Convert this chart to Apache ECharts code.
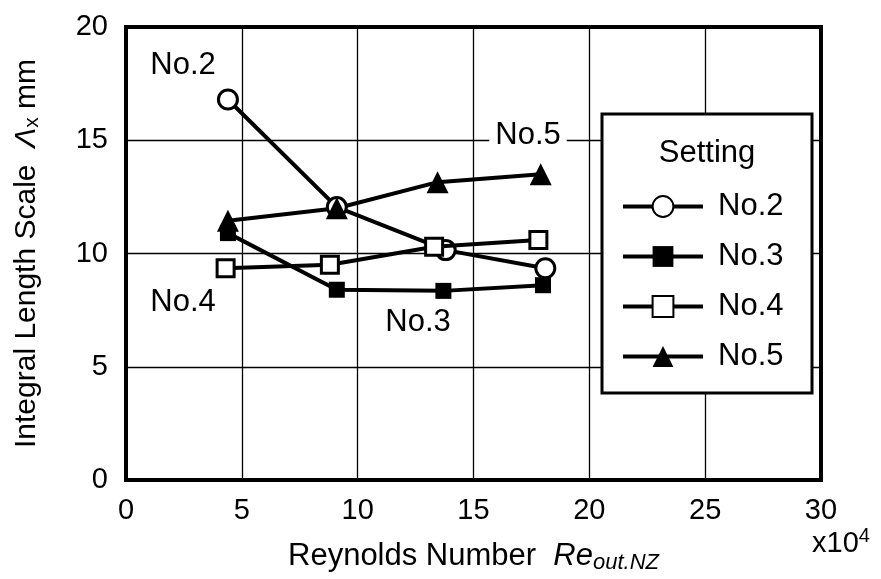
<!DOCTYPE html>
<html>
<head>
<meta charset="utf-8">
<script src="https://cdn.jsdelivr.net/npm/echarts@6/dist/echarts.min.js"></script>
<style>html,body{margin:0;padding:0;background:#fff}#c{width:881px;height:579px}</style>
</head>
<body>
<div id="c"></div>
<script>
// Data (x in units of 10^4, y in mm)
const seriesNames = ['No.2', 'No.3', 'No.4', 'No.5'];
const no2 = [[4.4, 16.8], [9.1, 12.05], [13.8, 10.15], [18.1, 9.35]];
const no3 = [[4.4, 10.9], [9.1, 8.4], [13.7, 8.35], [18.0, 8.6]];
const no4 = [[4.3, 9.35], [8.8, 9.5], [13.3, 10.3], [17.8, 10.6]];
const no5 = [[4.4, 11.45], [9.1, 12.0], [13.45, 13.15], [17.9, 13.5]];
const xTicks = [0, 5, 10, 15, 20, 25, 30];
const yTicks = [0, 5, 10, 15, 20];

const FONT = '"Liberation Sans", Arial, sans-serif';
const FS = 29;   // tick labels
const FT = 31;   // annotations / legend / x title
const FY = 30;   // y title

const chart = echarts.init(document.getElementById('c'), null, {renderer: 'canvas'});

function mk(name, data, symbol, size, fill, z) {
  return {
    name: name, type: 'line', data: data, symbol: symbol, symbolSize: size, z: z,
    showSymbol: true,
    lineStyle: {color: '#000', width: 4},
    itemStyle: {color: fill, borderColor: '#000', borderWidth: fill === '#fff' ? 3 : 0},
    emphasis: {disabled: true},
    animation: false
  };
}

const option = {
  backgroundColor: '#fff',
  animation: false,
  grid: {left: 126, right: 60, top: 27, bottom: 99, show: true, borderColor: '#000', borderWidth: 4, backgroundColor: 'transparent', z: 3},
  xAxis: {
    type: 'value', min: xTicks[0], max: xTicks[xTicks.length - 1], interval: 5,
    axisLine: {show: false}, axisTick: {show: false},
    splitLine: {show: true, lineStyle: {color: '#000', width: 1.3}},
    axisLabel: {color: '#000', fontSize: FS, fontFamily: FONT, margin: 16},
    name: 'Reynolds Number  {i|Re}{s|out.NZ}',
    nameLocation: 'middle', nameGap: 58,
    nameTextStyle: {
      color: '#000', fontSize: FT, fontFamily: FONT,
      rich: {
        i: {fontSize: FT, fontStyle: 'italic', fontFamily: FONT, color: '#000'},
        s: {fontSize: 22, fontStyle: 'italic', fontFamily: FONT, color: '#000', padding: [14, 0, 0, 0]}
      }
    }
  },
  yAxis: {
    type: 'value', min: yTicks[0], max: yTicks[yTicks.length - 1], interval: 5,
    axisLine: {show: false}, axisTick: {show: false},
    splitLine: {show: true, lineStyle: {color: '#000', width: 1.3}},
    axisLabel: {color: '#000', fontSize: FS, fontFamily: FONT, margin: 18},
    name: 'Integral Length Scale  {i|Λ}{s|x}{n| mm}',
    nameLocation: 'middle', nameGap: 83, nameRotate: 90,
    nameTextStyle: {
      color: '#000', fontSize: FY, fontFamily: FONT,
      rich: {
        i: {fontSize: FY, fontStyle: 'italic', fontFamily: FONT, color: '#000'},
        s: {fontSize: 21, fontFamily: FONT, color: '#000', padding: [12, 0, 0, 0]},
        n: {fontSize: FY, fontFamily: FONT, color: '#000'}
      }
    }
  },
  legend: {
    orient: 'vertical', left: 621, top: 191,
    itemWidth: 80, itemHeight: 26, itemGap: 19,
    padding: 0,
    data: seriesNames,
    lineStyle: {width: 4, color: '#000'},
    textStyle: {color: '#000', fontSize: FT, fontFamily: FONT, padding: [0, 0, 0, 10]},
    selectedMode: false,
    z: 10
  },
  graphic: [
    {type: 'rect', shape: {x: 602, y: 114, width: 210, height: 279}, style: {fill: '#fff', stroke: '#000', lineWidth: 3}, z: 5},
    {type: 'text', x: 707, y: 153, style: {text: 'Setting', font: FT + 'px ' + FONT, fill: '#000', textAlign: 'center', textVerticalAlign: 'middle'}, z: 6},
    {type: 'text', x: 183, y: 65, style: {text: 'No.2', font: FT + 'px ' + FONT, fill: '#000', textAlign: 'center', textVerticalAlign: 'middle'}, z: 6},
    {type: 'text', x: 183, y: 302, style: {text: 'No.4', font: FT + 'px ' + FONT, fill: '#000', textAlign: 'center', textVerticalAlign: 'middle'}, z: 6},
    {type: 'text', x: 418, y: 322, style: {text: 'No.3', font: FT + 'px ' + FONT, fill: '#000', textAlign: 'center', textVerticalAlign: 'middle'}, z: 6},
    {type: 'text', x: 528, y: 135, style: {text: 'No.5', font: FT + 'px ' + FONT, fill: '#000', textAlign: 'center', textVerticalAlign: 'middle', backgroundColor: '#fff', padding: [2, 6]}, z: 6},
    {type: 'text', x: 812, y: 544, style: {rich: {a: {font: FS + 'px ' + FONT, fill: '#000'}, b: {font: '20px ' + FONT, fill: '#000', padding: [0, 0, 16, 0]}}, text: '{a|x10}{b|4}', fill: '#000', textAlign: 'left', textVerticalAlign: 'middle'}, z: 6}
  ],
  series: [
    mk('No.2', no2, 'circle', 19, '#fff', 4),
    mk('No.3', no3, 'rect', 16, '#000', 4),
    mk('No.4', no4, 'rect', 17, '#fff', 5),
    mk('No.5', no5, 'triangle', 22, '#000', 4)
  ]
};
chart.setOption(option);
</script>
</body>
</html>
